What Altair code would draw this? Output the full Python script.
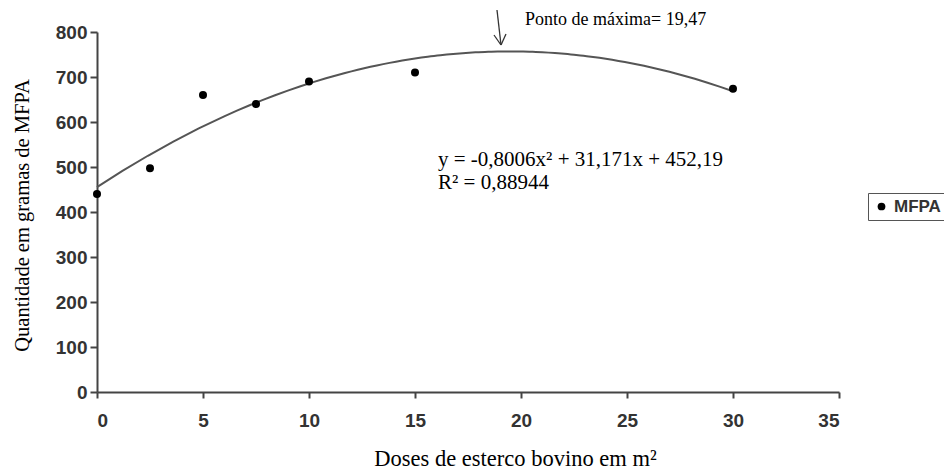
import altair as alt
import pandas as pd

doses = [0, 2.5, 5, 7.5, 10, 15, 30]
mfpa = [440, 497, 660, 640, 690, 710, 674]
series = ["MFPA"] * len(doses)

df = pd.DataFrame({"dose": doses, "mfpa": mfpa, "serie": series})

x_ticks = [0, 5, 10, 15, 20, 25, 30, 35]
y_ticks = [0, 100, 200, 300, 400, 500, 600, 700, 800]

x_enc = alt.X("dose:Q",
              scale=alt.Scale(domain=[0, 35], nice=False, zero=False),
              axis=alt.Axis(values=x_ticks, title="Doses de esterco bovino em m²",
                            grid=False, domainColor="#444", domainWidth=2,
                            tickColor="#444", tickWidth=2, tickSize=6,
                            labelFont="Liberation Sans", labelFontWeight="bold",
                            labelFontSize=19, labelColor="#333", labelPadding=13,
                            titleFont="Liberation Serif", titleFontWeight="normal",
                            titleFontSize=22.5, titleColor="#000",
                            titleX=418, titleY=66, titleAlign="center",
                            titleBaseline="middle", titleAnchor="start"))
y_enc = alt.Y("mfpa:Q",
              scale=alt.Scale(domain=[0, 800], nice=False),
              axis=alt.Axis(values=y_ticks, title="Quantidade em gramas  de MFPA",
                            grid=False, domainColor="#444", domainWidth=2,
                            tickColor="#444", tickWidth=2, tickSize=7,
                            labelFont="Liberation Sans", labelFontWeight="bold",
                            labelFontSize=19, labelColor="#333", labelPadding=3,
                            titleFont="Liberation Serif", titleFontWeight="normal",
                            titleFontSize=20.5, titleColor="#000",
                            titleX=-75, titleY=183, titleAlign="center",
                            titleBaseline="middle", titleAnchor="start"))

base = alt.Chart(df)

curve = base.transform_regression(
    "dose", "mfpa", method="poly", order=2, extent=[0, 30]
).mark_line(color="#555", strokeWidth=2).encode(x=x_enc, y=y_enc)

points = base.mark_point(filled=True, size=64, color="black", opacity=1).encode(
    x="dose:Q", y="mfpa:Q",
    shape=alt.Shape("serie:N",
                    scale=alt.Scale(range=["circle"]),
                    legend=alt.Legend(title=None, orient="none", legendX=771, legendY=161,
                                      strokeColor="#555", padding=5,
                                      labelFont="Liberation Sans", labelFontWeight="bold",
                                      labelFontSize=17, labelColor="#333",
                                      symbolFillColor="black", symbolStrokeColor="black",
                                      symbolSize=60, labelOffset=4)),
)

txt_style = dict(font="Liberation Serif", color="#000", align="left", baseline="middle")

t_max = alt.Chart().mark_text(fontSize=18, **txt_style).encode(
    x=alt.value(428), y=alt.value(-12), text=alt.datum("Ponto de máxima=  19,47"))
t_eq = alt.Chart().mark_text(fontSize=21, **txt_style).encode(
    x=alt.value(341), y=alt.value(128), text=alt.datum("y = -0,8006x² + 31,171x + 452,19"))
t_r2 = alt.Chart().mark_text(fontSize=21, **txt_style).encode(
    x=alt.value(341), y=alt.value(151), text=alt.datum("R² = 0,88944"))

arrow_line = alt.Chart().mark_rule(color="#333", strokeWidth=1.3).encode(
    x=alt.value(400), y=alt.value(-22), x2=alt.value(404), y2=alt.value(13))
arrow_l = alt.Chart().mark_rule(color="#333", strokeWidth=1.3).encode(
    x=alt.value(397), y=alt.value(3), x2=alt.value(404), y2=alt.value(13))
arrow_r = alt.Chart().mark_rule(color="#333", strokeWidth=1.3).encode(
    x=alt.value(409), y=alt.value(2), x2=alt.value(404), y2=alt.value(13))

chart = alt.layer(curve, points, t_max, t_eq, t_r2, arrow_line, arrow_l, arrow_r).properties(
    width=742, height=360,
    autosize=alt.AutoSizeParams(type="none"),
    padding={"left": 89, "top": 24, "right": 105, "bottom": 80},
).configure_view(stroke=None)

chart.save("out.html", embed_options={"renderer": "svg", "actions": False})
